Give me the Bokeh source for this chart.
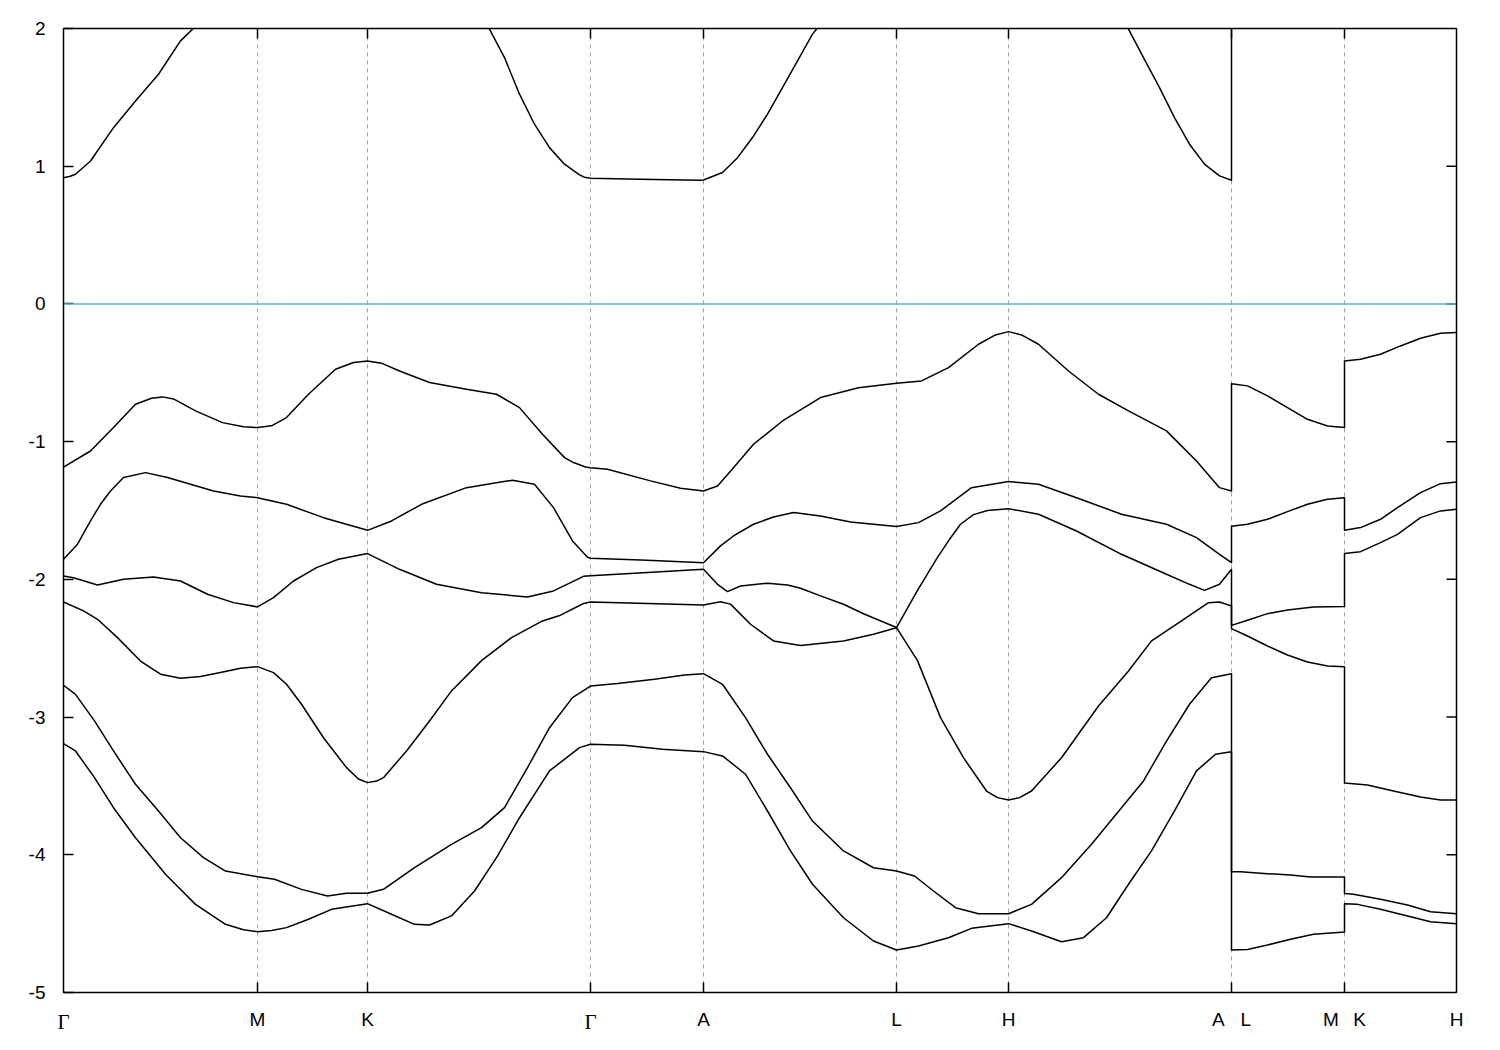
from bokeh.plotting import figure
from bokeh.models import Range1d, FixedTicker, LinearAxis, Span
from bokeh.embed import file_html
from bokeh.resources import INLINE

# High-symmetry points along the k-path (arbitrary path-length units)
sym_k = [0.000, 0.194, 0.304, 0.527, 0.640, 0.833, 0.945, 1.168, 1.281, 1.393]
sym_labels = ["Γ", "M", "K", "Γ", "A", "L", "H",
              "A\u00a0\u00a0\u00a0L", "M\u00a0\u00a0\u2009K", "H"]
y_ticks = [-5, -4, -3, -2, -1, 0, 1, 2]
y_labels = ["-5", "-4", "-3", "-2", "-1", "0", "1", "2"]

# Conduction band (values above 2 lie outside the window)
k_cb = [0.000, 0.006, 0.012, 0.027, 0.050, 0.072, 0.095, 0.117, 0.129, 0.194, 0.304, 0.407,
        0.426, 0.441, 0.456, 0.471, 0.486, 0.501, 0.516, 0.521, 0.527, 0.576, 0.637, 0.640,
        0.659, 0.674, 0.689, 0.704, 0.719, 0.734, 0.749, 0.753, 0.770, 0.833, 0.945,
        1.050, 1.065, 1.080, 1.096, 1.111, 1.126, 1.141, 1.156, 1.168, 1.168, 1.281,
        1.281, 1.393]
e_cb = [0.917, 0.925, 0.942, 1.038, 1.280, 1.474, 1.668, 1.910, 1.995, 2.55, 2.85, 2.25,
        1.995, 1.789, 1.523, 1.305, 1.135, 1.015, 0.937, 0.920, 0.913, 0.906, 0.898, 0.900,
        0.954, 1.062, 1.208, 1.378, 1.571, 1.765, 1.959, 1.995, 2.25, 2.7, 3.0,
        2.25, 1.995, 1.789, 1.571, 1.353, 1.160, 1.015, 0.930, 0.898, 2.7, 2.8,
        3.0, 3.0]

# Valence band 1 (highest)
k_v1 = [0.000, 0.027, 0.050, 0.072, 0.088, 0.099, 0.110, 0.132, 0.159, 0.180, 0.194, 0.208,
        0.223, 0.245, 0.272, 0.290, 0.304, 0.318, 0.336, 0.366, 0.403, 0.433, 0.456, 0.479,
        0.501, 0.510, 0.522, 0.527, 0.544, 0.587, 0.617, 0.640, 0.654, 0.670, 0.690, 0.719,
        0.757, 0.795, 0.833, 0.858, 0.885, 0.915, 0.932, 0.945, 0.958, 0.975, 1.005, 1.035,
        1.065, 1.103, 1.133, 1.156, 1.168, 1.168, 1.184, 1.204, 1.224, 1.244, 1.264, 1.281,
        1.281, 1.297, 1.317, 1.337, 1.357, 1.377, 1.393]
e_v1 = [-1.185, -1.068, -0.898, -0.729, -0.685, -0.675, -0.690, -0.777, -0.862, -0.892, -0.898, -0.885,
        -0.825, -0.656, -0.474, -0.425, -0.414, -0.430, -0.487, -0.571, -0.620, -0.656, -0.753, -0.946,
        -1.116, -1.152, -1.184, -1.189, -1.200, -1.285, -1.338, -1.358, -1.322, -1.189, -1.019, -0.850,
        -0.680, -0.608, -0.576, -0.559, -0.462, -0.293, -0.225, -0.201, -0.225, -0.293, -0.487, -0.656,
        -0.777, -0.922, -1.140, -1.334, -1.358, -0.579, -0.595, -0.668, -0.753, -0.838, -0.886, -0.898,
        -0.414, -0.402, -0.365, -0.305, -0.249, -0.213, -0.208]

# Valence band 2
k_v2 = [0.000, 0.014, 0.027, 0.037, 0.047, 0.060, 0.082, 0.104, 0.127, 0.150, 0.177, 0.194,
        0.223, 0.260, 0.304,
        0.328, 0.358, 0.403, 0.449, 0.471, 0.490, 0.509, 0.524, 0.527, 0.584, 0.640,
        0.657, 0.670, 0.690, 0.710, 0.730, 0.757, 0.787, 0.833, 0.855, 0.877, 0.908,
        0.945, 0.975, 1.013, 1.058, 1.103, 1.133, 1.156, 1.168, 1.168, 1.184, 1.204,
        1.224, 1.244, 1.264, 1.281, 1.281, 1.297, 1.317, 1.334, 1.357, 1.377, 1.393]
e_v2 = [-1.854, -1.745, -1.576, -1.455, -1.358, -1.261, -1.225, -1.261, -1.309, -1.358, -1.394, -1.407,
        -1.455, -1.552, -1.644,
        -1.576, -1.455, -1.334, -1.280, -1.309, -1.479, -1.721, -1.840, -1.847, -1.861, -1.879,
        -1.757, -1.685, -1.600, -1.547, -1.515, -1.540, -1.583, -1.617, -1.588, -1.503, -1.334,
        -1.290, -1.309, -1.407, -1.527, -1.600, -1.697, -1.818, -1.879, -1.615, -1.600, -1.564,
        -1.508, -1.455, -1.418, -1.407, -1.644, -1.624, -1.564, -1.479, -1.370, -1.305, -1.293]

# Valence band 3
k_v3 = [0.000, 0.010, 0.034, 0.060, 0.090, 0.117, 0.144, 0.170, 0.194, 0.210, 0.230, 0.253,
        0.275, 0.304,
        0.336, 0.373, 0.418, 0.464, 0.490, 0.520, 0.527, 0.584, 0.640, 0.654, 0.664,
        0.677, 0.704, 0.724, 0.737, 0.757, 0.780, 0.800, 0.833, 0.854, 0.874, 0.885,
        0.897, 0.910, 0.924, 0.945, 0.975, 1.013, 1.058, 1.103, 1.126, 1.141, 1.156,
        1.168, 1.168, 1.184, 1.204, 1.224, 1.250, 1.281, 1.281, 1.297, 1.317, 1.334,
        1.357, 1.377, 1.393]
e_v3 = [-1.975, -1.988, -2.041, -2.000, -1.983, -2.012, -2.108, -2.169, -2.200, -2.133, -2.012, -1.915,
        -1.854, -1.813,
        -1.927, -2.036, -2.097, -2.128, -2.084, -1.978, -1.973, -1.951, -1.927, -2.036, -2.089,
        -2.048, -2.028, -2.041, -2.065, -2.120, -2.181, -2.250, -2.350, -2.080, -1.840, -1.720,
        -1.600, -1.530, -1.500, -1.487, -1.527, -1.649, -1.818, -1.963, -2.036, -2.080, -2.036,
        -1.927, -2.334, -2.297, -2.249, -2.222, -2.200, -2.198, -1.813, -1.799, -1.733, -1.673,
        -1.552, -1.503, -1.491]

# Valence band 4
k_v4 = [0.000, 0.020, 0.034, 0.054, 0.077, 0.097, 0.117, 0.137, 0.157, 0.177, 0.194, 0.210, 0.223,
        0.238, 0.260, 0.283, 0.295, 0.304, 0.313, 0.320, 0.343, 0.366, 0.388, 0.418, 0.448,
        0.479, 0.497, 0.520, 0.527, 0.584, 0.640, 0.657, 0.667, 0.687, 0.710, 0.737, 0.780,
        0.810, 0.833, 0.854, 0.877, 0.900, 0.923, 0.934, 0.945, 0.956, 0.968, 0.998, 1.035,
        1.065, 1.088, 1.118, 1.145, 1.156, 1.168, 1.168, 1.184, 1.204, 1.224, 1.244, 1.264,
        1.281, 1.281, 1.304, 1.330, 1.357, 1.377, 1.393]
e_v4 = [-2.164, -2.229, -2.290, -2.423, -2.593, -2.689, -2.718, -2.706, -2.677, -2.646, -2.634, -2.677, -2.762,
        -2.907, -3.150, -3.367, -3.450, -3.476, -3.465, -3.440, -3.246, -3.028, -2.810, -2.590, -2.423,
        -2.302, -2.260, -2.175, -2.164, -2.176, -2.186, -2.162, -2.180, -2.326, -2.447, -2.480, -2.447,
        -2.399, -2.351, -2.590, -3.004, -3.295, -3.537, -3.585, -3.602, -3.585, -3.537, -3.295, -2.920,
        -2.665, -2.447, -2.302, -2.169, -2.164, -2.193, -2.358, -2.411, -2.484, -2.549, -2.600, -2.629,
        -2.634, -3.479, -3.493, -3.537, -3.580, -3.602, -3.602]

# Valence band 5
k_v5 = [0.000, 0.012, 0.031, 0.050, 0.072, 0.095, 0.117, 0.140, 0.162, 0.194, 0.211,
        0.238, 0.264, 0.283, 0.304, 0.320, 0.351, 0.388, 0.418, 0.441, 0.464, 0.486,
        0.509, 0.527, 0.554, 0.591, 0.621, 0.640, 0.659, 0.682, 0.704, 0.727, 0.749,
        0.780, 0.810, 0.833, 0.851, 0.870, 0.892, 0.915, 0.945, 0.968, 0.998, 1.028,
        1.058, 1.080, 1.103, 1.126, 1.148, 1.168, 1.168, 1.177, 1.204, 1.227, 1.247,
        1.281, 1.281, 1.290, 1.317, 1.344, 1.367, 1.393]
e_v5 = [-2.769, -2.835, -3.028, -3.246, -3.488, -3.682, -3.876, -4.021, -4.118, -4.159, -4.178,
        -4.251, -4.299, -4.280, -4.280, -4.251, -4.094, -3.924, -3.803, -3.658, -3.367, -3.077,
        -2.859, -2.775, -2.757, -2.726, -2.694, -2.685, -2.762, -3.004, -3.270, -3.513, -3.755,
        -3.972, -4.094, -4.118, -4.154, -4.263, -4.384, -4.428, -4.428, -4.360, -4.166, -3.924,
        -3.658, -3.464, -3.174, -2.907, -2.714, -2.685, -4.123, -4.123, -4.137, -4.147, -4.161,
        -4.161, -4.282, -4.287, -4.323, -4.365, -4.413, -4.428]

# Valence band 6 (lowest)
k_v6 = [0.000, 0.012, 0.031, 0.050, 0.072, 0.102, 0.132, 0.162, 0.180, 0.194, 0.208, 0.223, 0.245,
        0.268, 0.304, 0.328, 0.351, 0.366, 0.388, 0.411, 0.433, 0.456, 0.486, 0.516,
        0.527, 0.561, 0.599, 0.640, 0.659, 0.682, 0.704, 0.727, 0.749, 0.780, 0.810,
        0.833, 0.855, 0.885, 0.908, 0.945, 0.968, 0.998, 1.020, 1.043, 1.065, 1.088,
        1.111, 1.133, 1.152, 1.168, 1.168, 1.184, 1.204, 1.227, 1.250, 1.281, 1.281,
        1.294, 1.317, 1.344, 1.367, 1.393]
e_v6 = [-3.193, -3.246, -3.440, -3.658, -3.876, -4.142, -4.360, -4.505, -4.545, -4.558, -4.550, -4.529, -4.468,
        -4.396, -4.355, -4.432, -4.505, -4.510, -4.444, -4.263, -4.021, -3.731, -3.391, -3.222,
        -3.198, -3.205, -3.234, -3.251, -3.282, -3.415, -3.682, -3.972, -4.214, -4.457, -4.626,
        -4.691, -4.662, -4.602, -4.534, -4.500, -4.553, -4.631, -4.602, -4.457, -4.214, -3.972,
        -3.682, -3.391, -3.270, -3.251, -4.691, -4.687, -4.655, -4.614, -4.577, -4.561, -4.355,
        -4.360, -4.396, -4.444, -4.486, -4.500]

bands = [(k_cb, e_cb), (k_v1, e_v1), (k_v2, e_v2), (k_v3, e_v3),
         (k_v4, e_v4), (k_v5, e_v5), (k_v6, e_v6)]

FONT = "Liberation Sans"
FS = "19px"
FW, FH = 1393, 964
x0, x1 = sym_k[0], sym_k[-1]
y0, y1 = y_ticks[0], y_ticks[-1]
TICK = 10  # px, inward tick length
dy = TICK * (y1 - y0) / FH
dx = TICK * (x1 - x0) / FW

p = figure(frame_width=FW, frame_height=FH,
           x_range=Range1d(x0, x1), y_range=Range1d(y0, y1),
           output_backend="svg", toolbar_location=None,
           min_border_left=63, min_border_right=30,
           min_border_top=28, min_border_bottom=50,
           x_axis_location=None, y_axis_location=None)
p.background_fill_color = "white"
p.border_fill_color = "white"
p.outline_line_color = "black"
p.outline_line_width = 1.5

def label_axis(ticks, labels, font, size, standoff):
    ax = LinearAxis()
    ax.ticker = FixedTicker(ticks=ticks)
    ax.axis_line_color = None
    ax.major_tick_line_color = None
    ax.minor_tick_line_color = None
    ax.major_tick_in = 0
    ax.major_tick_out = 0
    ax.major_label_text_font = font
    ax.major_label_text_font_size = size
    ax.major_label_text_color = "black"
    ax.major_label_standoff = standoff
    ax.major_label_overrides = dict(zip(ticks, labels))
    return ax

# k-path labels: Latin letters in a sans face, Gamma in a serif face
oth = [(k, lab) for k, lab in zip(sym_k, sym_labels) if lab != "Γ"]
gam = [(k, lab) for k, lab in zip(sym_k, sym_labels) if lab == "Γ"]
xa = label_axis([k for k, _ in oth], [l for _, l in oth], FONT, FS, 16)
p.add_layout(xa, "below")
xg = label_axis([k for k, _ in gam], [l for _, l in gam], "Liberation Serif", "21px", -23)
p.add_layout(xg, "below")

yl = LinearAxis()
yl.ticker = FixedTicker(ticks=y_ticks)
yl.axis_line_color = None
yl.major_tick_in = TICK
yl.major_tick_out = 0
yl.major_tick_line_color = "black"
yl.major_tick_line_width = 1.5
yl.minor_tick_line_color = None
yl.major_label_text_font = FONT
yl.major_label_text_font_size = FS
yl.major_label_text_color = "black"
yl.major_label_standoff = 18
yl.major_label_overrides = dict(zip(y_ticks, y_labels))
p.add_layout(yl, "left")

# inward ticks on the bottom, top and right borders
inner_k = sym_k[1:-1]
n = len(inner_k)
p.segment(x0=inner_k, y0=[y0] * n, x1=inner_k, y1=[y0 + dy] * n,
          line_color="black", line_width=1.5)
p.segment(x0=inner_k, y0=[y1] * n, x1=inner_k, y1=[y1 - dy] * n,
          line_color="black", line_width=1.5)
right_y = y_ticks[1:-1]
m = len(right_y)
p.segment(x0=[x1] * m, y0=right_y, x1=[x1 - dx] * m, y1=right_y,
          line_color="black", line_width=1.5)

# vertical dashed lines at the high-symmetry points
p.xgrid.ticker = FixedTicker(ticks=inner_k)
p.xgrid.grid_line_color = "#a0a0a0"
p.xgrid.grid_line_dash = "4 4"
p.xgrid.grid_line_width = 1
p.ygrid.grid_line_color = None

# Fermi level
p.add_layout(Span(location=0, dimension="width", line_color="#56b4e9", line_width=1.5))

for k, e in bands:
    p.line(k, e, line_color="black", line_width=1.5, line_join="round")

open("out.html", "w").write(file_html(p, INLINE))
